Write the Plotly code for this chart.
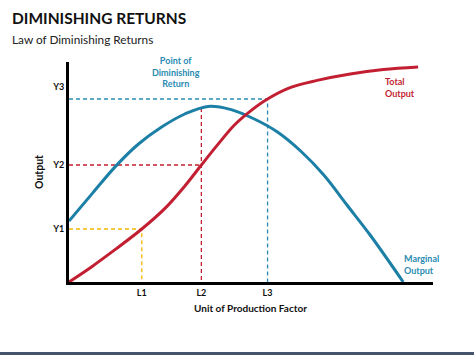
import plotly.graph_objects as go

# ---- data (arbitrary units) ----
blue_x = [0, 0.7, 1.4, 2.1, 2.8, 3.5, 4.2, 4.9, 5.6, 6.3, 7.0, 7.7, 8.4, 9.1, 10.1]
blue_y = [3.05, 4.42, 5.77, 6.9, 7.75, 8.4, 8.78, 8.62, 8.15, 7.5, 6.55, 5.35, 3.85, 2.35, 0.0]

red_x = [0, 0.7, 1.4, 2.2, 2.9, 3.5, 4.0, 4.5, 5.0, 5.5, 6.0, 6.7, 7.5, 8.5, 9.5, 10.55]
red_y = [0, 0.78, 1.63, 2.65, 3.68, 4.8, 5.85, 6.88, 7.85, 8.57, 9.15, 9.73, 10.08, 10.4, 10.62, 10.75]

x_tick_vals = [2.2, 4.0, 6.0]
x_tick_text = ["L1", "L2", "L3"]
y_tick_vals = [2.65, 5.85, 9.75]
y_tick_text = ["Y1", "Y2", "Y3"]

L1, L2, L3 = 2.2, 4.0, 6.0
Y1, Y2, Y3line = 2.65, 5.85, 9.15
blue_at_L2 = 8.7

BLUE = "#1b7fa6"
BLUE_D = "#2a8bb3"
RED = "#c21f32"
YEL = "#f2b705"
FONT = "Lato"

fig = go.Figure()

def dash(xs, ys, color):
    fig.add_trace(go.Scatter(x=xs, y=ys, mode="lines",
                             line=dict(color=color, width=1.3, dash="4px,3px"),
                             hoverinfo="skip", showlegend=False))

dash([0, L1, L1], [Y1, Y1, 0], YEL)
dash([0, L2], [Y2, Y2], RED)
dash([L2, L2], [blue_at_L2, 0], RED)
dash([0, L3, L3], [Y3line, Y3line, 0], BLUE_D)

fig.add_trace(go.Scatter(x=blue_x, y=blue_y, mode="lines", line=dict(color=BLUE, width=3, shape="spline", smoothing=1.0),
                         showlegend=False))
fig.add_trace(go.Scatter(x=red_x, y=red_y, mode="lines", line=dict(color=RED, width=3, shape="spline", smoothing=1.0),
                         showlegend=False))

ann = []
ann.append(dict(x=-0.162, y=1.2, xref="paper", yref="paper", xanchor="left", yanchor="middle",
                text="<b>DIMINISHING RETURNS</b>", showarrow=False,
                font=dict(family=FONT, size=15.5, color="#111")))
ann.append(dict(x=-0.162, y=1.1, xref="paper", yref="paper", xanchor="left", yanchor="middle",
                text="Law of Diminishing Returns", showarrow=False,
                font=dict(family=FONT, size=11.8, color="#222")))
ann.append(dict(x=-0.0824, y=0.5, xref="paper", yref="paper", textangle=-90, xanchor="center", yanchor="middle",
                text="<b>Output</b>", showarrow=False, font=dict(family=FONT, size=10.5, color="#111")))
ann.append(dict(x=0.4986, y=-0.118, xref="paper", yref="paper", xanchor="center", yanchor="middle",
                text="<b>Unit of Production Factor</b>", showarrow=False,
                font=dict(family=FONT, size=10, color="#111")))
ann.append(dict(x=3.22, y=10.5, yanchor="middle", text="<b>Point of<br>Diminishing<br>Return</b>", showarrow=False,
                font=dict(family=FONT, size=9, color=BLUE_D), align="center"))
ann.append(dict(x=9.49, y=9.74, xanchor="left", yanchor="middle", text="<b>Total<br>Output</b>", showarrow=False,
                font=dict(family=FONT, size=9, color=RED), align="left"))
ann.append(dict(x=10.06, y=0.9, xanchor="left", yanchor="middle", text="<b>Marginal<br>Output</b>", showarrow=False,
                font=dict(family=FONT, size=9, color=BLUE_D), align="left"))

fig.update_layout(
    width=474, height=355,
    margin=dict(l=69, r=41, t=62, b=73),
    paper_bgcolor="white", plot_bgcolor="white",
    annotations=ann,
    shapes=[dict(type="rect", xref="paper", yref="paper", x0=-0.2, x1=1.2,
                 y0=(282 - 356) / 220, y1=(282 - 352) / 220,
                 fillcolor="#44546a", line=dict(width=0), layer="above")],
    xaxis=dict(range=[0, 11], showgrid=False, zeroline=False, showline=True, linecolor="black", linewidth=3,
               tickvals=x_tick_vals, ticktext=x_tick_text, ticks="",
               tickfont=dict(family=FONT, size=9, color="#111", weight="bold")),
    yaxis=dict(range=[0, 11], showgrid=False, zeroline=False, showline=True, linecolor="black", linewidth=3,
               tickvals=y_tick_vals, ticktext=y_tick_text, ticks="",
               tickfont=dict(family=FONT, size=9, color="#111", weight="bold")),
)

fig.write_html("out.html")
